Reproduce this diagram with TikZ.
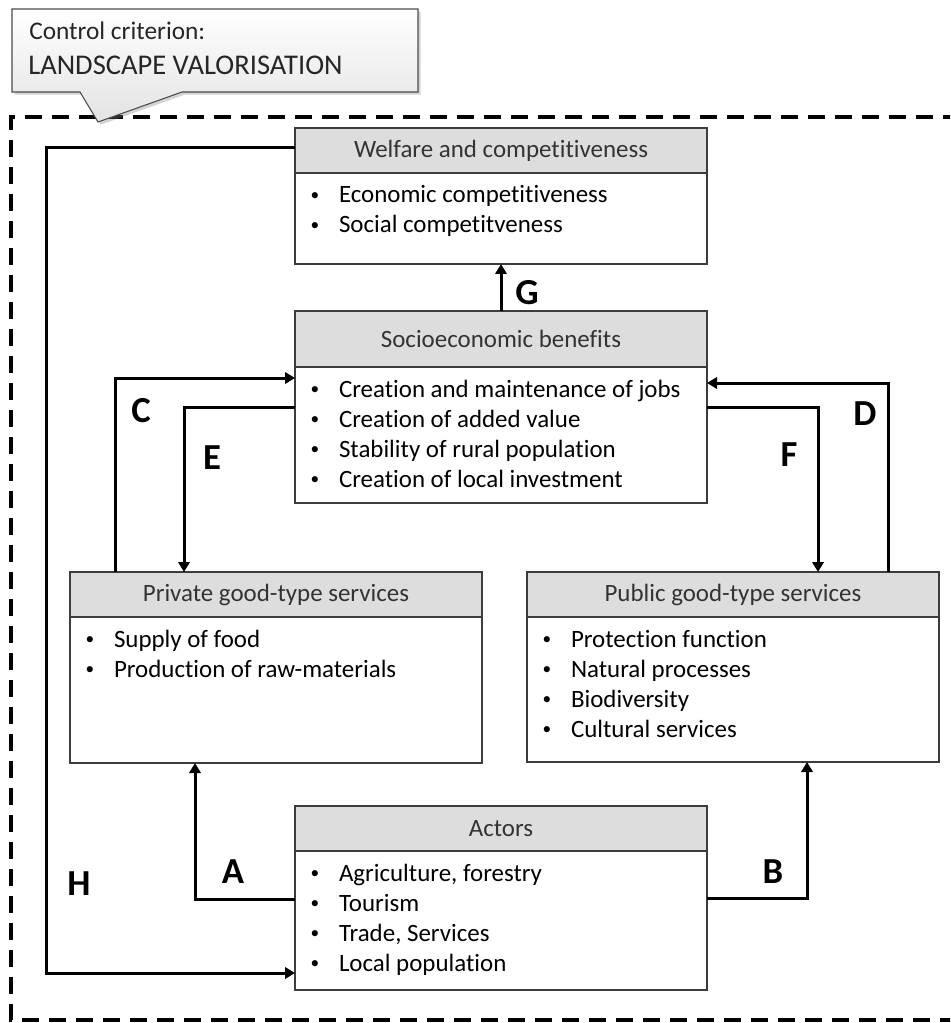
\documentclass[tikz,border=0pt]{standalone}
\usepackage{fontspec}
\setmainfont{Carlito}[Ligatures=NoCommon]
\usetikzlibrary{calc,arrows.meta,shadows}
\definecolor{hdrfill}{HTML}{DDDDDD}
\definecolor{boxline}{HTML}{3C3C3C}
\definecolor{hdrtext}{HTML}{333333}
\newcommand{\bul}[1]{\makebox[22.5pt][l]{\hspace{1.2pt}\raisebox{2.2pt}{\fontsize{13}{13}\selectfont\textbullet}}#1}
\begin{document}
\begin{tikzpicture}[x=0.75pt,y=-0.75pt,
  txt/.style={font=\fontsize{18.7}{22}\selectfont},
  hdrbox/.style={txt,draw=boxline,line width=1.5pt,fill=hdrfill,text=hdrtext,minimum width=309pt,anchor=north west,inner sep=0pt,outer sep=0pt},
  bodybox/.style={draw=boxline,line width=1.5pt,fill=white,minimum width=309pt,anchor=north west,inner sep=0pt,outer sep=0pt},
  item/.style={txt,anchor=base west,inner sep=0pt,outer sep=0pt},
  conn/.style={line width=2.25pt,-{Triangle[length=7.5pt,width=8.5pt]}},
  lbl/.style={font=\fontsize{27.5}{30}\selectfont\bfseries,inner sep=0pt},
  dashframe/.style={line width=3pt,dash pattern=on 12.75pt off 7.5pt},
]
\clip (0,0) rectangle (950,1023);
\draw[dashframe] (960,117) -- (11,117) -- (11,1020) -- (960,1020);

% callout
\path[draw=gray!60!black,line width=0.8pt,top color=white,bottom color=gray!22,
  drop shadow={opacity=0.35,shadow xshift=2pt,shadow yshift=-2pt}]
  (12,9) -- (418,9) -- (418,92) -- (182,92) -- (98,122) -- (80,92) -- (12,92) -- cycle;
\node[font=\fontsize{19}{22}\selectfont,anchor=base west,inner sep=0pt,text=black!85] (cc) at (29,40) {Control criterion:};
\node[font=\fontsize{21.4}{24}\selectfont,anchor=base west,inner sep=0pt,text=black!85] (lv) at (28,75) {LANDSCAPE VALORISATION};

% welfare
\node[hdrbox,minimum height=33.75pt] (wh) at (295,128) {Welfare and competitiveness};
\node[bodybox,minimum height=68.25pt] (wb) at (wh.south west) {};
\node[item] (w1) at ($(wb.north west)+(14,30)$) {\bul{Economic competitiveness}};
\node[item] (w2) at ($(wb.north west)+(14,60)$) {\bul{Social competitveness}};

% socioeconomic
\node[hdrbox,minimum height=42pt] (sh) at (295,311) {Socioeconomic benefits};
\node[bodybox,minimum height=102pt] (sb) at (sh.south west) {};
\node[item] (s1) at ($(sb.north west)+(14,30)$) {\bul{Creation and maintenance of jobs}};
\node[item] (s2) at ($(sb.north west)+(14,60)$) {\bul{Creation of added value}};
\node[item] (s3) at ($(sb.north west)+(14,90)$) {\bul{Stability of rural population}};
\node[item] (s4) at ($(sb.north west)+(14,120)$) {\bul{Creation of local investment}};

% private
\node[hdrbox,minimum height=33.75pt] (ph) at (70,572) {Private good-type services};
\node[bodybox,minimum height=109.5pt] (pb) at (ph.south west) {};
\node[item] (p1) at ($(pb.north west)+(14,30)$) {\bul{Supply of food}};
\node[item] (p2) at ($(pb.north west)+(14,60)$) {\bul{Production of raw-materials}};

% public
\node[hdrbox,minimum height=33.75pt] (qh) at (527,572) {Public good-type services};
\node[bodybox,minimum height=108.75pt] (qb) at (qh.south west) {};
\node[item] (q1) at ($(qb.north west)+(14,30)$) {\bul{Protection function}};
\node[item] (q2) at ($(qb.north west)+(14,60)$) {\bul{Natural processes}};
\node[item] (q3) at ($(qb.north west)+(14,90)$) {\bul{Biodiversity}};
\node[item] (q4) at ($(qb.north west)+(14,120)$) {\bul{Cultural services}};

% actors
\node[hdrbox,minimum height=33.75pt] (ah) at (295,806) {Actors};
\node[bodybox,minimum height=104.25pt] (ab) at (ah.south west) {};
\node[item] (a1) at ($(ab.north west)+(14,30)$) {\bul{Agriculture, forestry}};
\node[item] (a2) at ($(ab.north west)+(14,60)$) {\bul{Tourism}};
\node[item] (a3) at ($(ab.north west)+(14,90)$) {\bul{Trade, Services}};
\node[item] (a4) at ($(ab.north west)+(14,120)$) {\bul{Local population}};

% connectors
\draw[conn] (sh.north) -- (wb.south);
\draw[conn] ($(ph.north west)+(45,0)$) |- ($(sb.north west)+(0,11)$);
\draw[conn] ($(sb.north west)+(0,40)$) -| ($(ph.north west)+(114,0)$);
\draw[conn] ($(qh.north west)+(361,0)$) |- ($(sb.north east)+(0,16)$);
\draw[conn] ($(sb.north east)+(0,40)$) -| ($(qh.north west)+(291,0)$);
\draw[conn] ($(ab.north west)+(0,48)$) -| ($(pb.south west)+(125,0)$);
\draw[conn] ($(ab.north east)+(0,47)$) -| ($(qb.south west)+(280,0)$);
\coordinate (hx) at (46,0);
\coordinate (hend) at ($(ab.north west)+(0,122)$);
\coordinate (hcorner) at (hx |- hend);
\draw[conn] ($(wh.north west)+(0,20)$) -| (hcorner) -- (hend);

% labels
\node[lbl] (lG) at (527,293) {G};
\node[lbl] (lC) at (141,411) {C};
\node[lbl] (lE) at (212,458) {E};
\node[lbl] (lD) at (865,414) {D};
\node[lbl] (lF) at (789,455) {F};
\node[lbl] (lA) at (233,872) {A};
\node[lbl] (lB) at (773,872) {B};
\node[lbl] (lH) at (79,884) {H};
\end{tikzpicture}
\end{document}
